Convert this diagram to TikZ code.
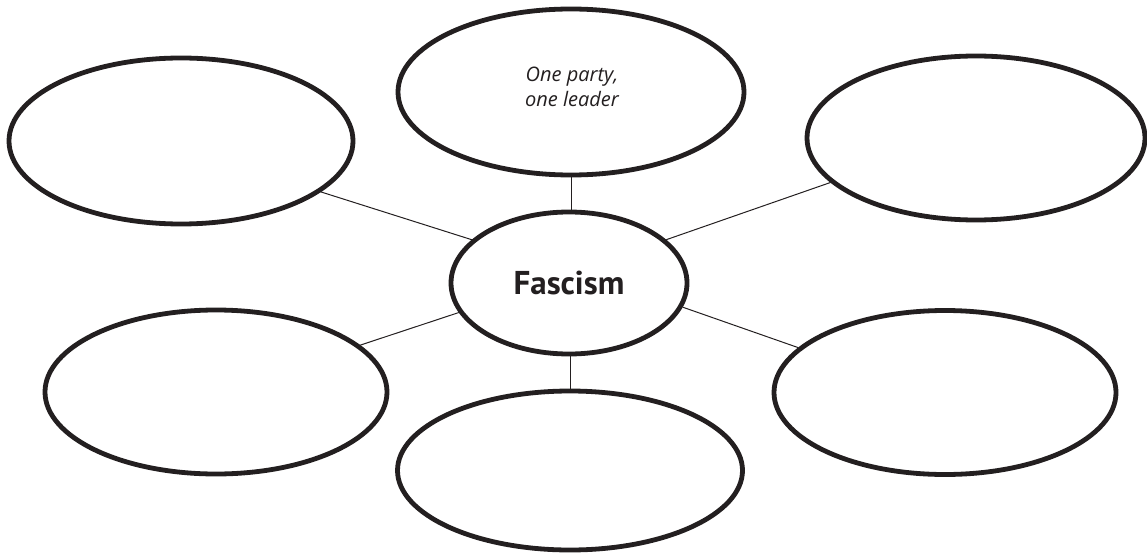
\documentclass[tikz,border=0pt]{standalone}
\usepackage{fontspec}
\setmainfont{PT Sans}
\newfontfamily\handfont{Open Sans}
\usetikzlibrary{shapes.geometric}
\definecolor{inkc}{HTML}{231F20}
\tikzset{
  bubble/.style={ellipse, draw=inkc, line width=4.8pt, fill=white, inner sep=0pt},
  outerb/.style={bubble, minimum width=344pt, minimum height=164pt},
  link/.style={draw=inkc, line width=1pt},
}
\begin{document}
\begin{tikzpicture}[x=1pt,y=-1pt]
\useasboundingbox (0,0) rectangle (1147,556);
\node[outerb, minimum width=346pt, minimum height=166pt] (top) at (571,92) {};
\node[align=center, text=inkc, font=\handfont\itshape\fontsize{20}{25}\selectfont]
      (toptext) at (572,87) {One party,\\one leader};
\node[outerb, minimum height=166pt] (tl) at (181,141) {};
\node[outerb, minimum width=338pt] (tr) at (976,138) {};
\node[outerb, minimum width=342pt] (bl) at (216,392) {};
\node[outerb, minimum width=342pt] (br) at (945,392.5) {};
\node[outerb, minimum width=345pt, minimum height=159pt] (bot) at (570,470.5) {};
\node[bubble, minimum width=236pt, minimum height=142pt, text=inkc,
      font=\bfseries\fontsize{33}{36}\selectfont] (c) at (569,283) {Fascism};
\draw[link] (c.156) -- (tl.-20);
\draw[link] (c.24.6) -- (tr.-163);
\draw[link] (c.-165) -- (bl.18);
\draw[link] (c.-12.7) -- (br.163);
\draw[link] (top.south) -- (top.south |- c.north);
\draw[link] (c.south -| bot.north) -- (bot.north);
\end{tikzpicture}
\end{document}
